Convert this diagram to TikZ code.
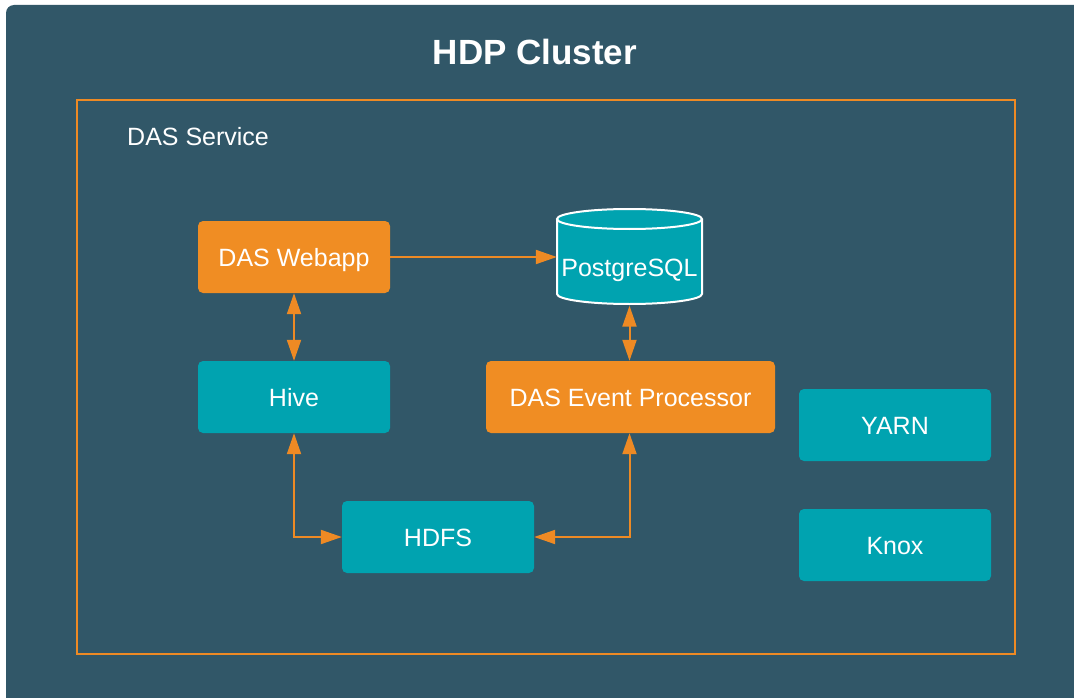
\documentclass[tikz,border=0pt]{standalone}
\usepackage{fontspec}
\setmainfont{Liberation Sans}
\usetikzlibrary{arrows.meta}
\definecolor{bgdark}{HTML}{315768}
\definecolor{tealbox}{HTML}{00A3B0}
\definecolor{orangebox}{HTML}{F08D23}
\definecolor{frameorange}{HTML}{EE8A24}
\tikzset{
  lbl/.style={text=white, font=\fontsize{25}{30}\selectfont, text height=18pt, text depth=0pt},
  box/.style={lbl, rectangle, rounded corners=5pt, inner sep=0pt, minimum width=192pt, minimum height=72pt},
  tealb/.style={box, fill=tealbox},
  orangeb/.style={box, fill=orangebox},
  conn/.style={draw=frameorange, line width=2pt, -{Triangle[length=21pt,width=14pt]}},
  dconn/.style={draw=frameorange, line width=2pt, {Triangle[length=21pt,width=14pt]}-{Triangle[length=21pt,width=14pt]}},
}
\begin{document}
\begin{tikzpicture}[x=1pt,y=-1pt]
\useasboundingbox (0,0) rectangle (1074,698);
\fill[white] (0,0) rectangle (1074,698);
\begin{scope}
\clip (0,0) rectangle (1074,698);
\fill[bgdark, rounded corners=8pt] (6,5) rectangle (1090,715);
\end{scope}
\draw[frameorange, line width=2.5pt] (77,100) rectangle (1015,654);
\node[text=white, font=\bfseries\fontsize{35}{40}\selectfont, text height=25pt, text depth=0pt, inner sep=0pt] (title) at (535,52) {HDP Cluster};
\node[lbl, anchor=west, inner sep=0pt] (svc) at (127,137) {DAS Service};
\node[orangeb] (webapp) at (294,257) {DAS Webapp};
\node[tealb] (hive) at (294,397) {Hive};
\node[orangeb, minimum width=289pt] (event) at (630.5,397) {DAS Event Processor};
\node[tealb] (hdfs) at (438,537) {HDFS};
\node[tealb] (yarn) at (895,425) {YARN};
\node[tealb] (knox) at (895,545) {Knox};
% PostgreSQL cylinder
\fill[tealbox] (557,219) -- (557,294) arc[start angle=180,end angle=360,x radius=72.5pt,y radius=10pt] -- (702,219) arc[start angle=0,end angle=180,x radius=72.5pt,y radius=10pt] -- cycle;
\draw[white, line width=2pt] (557,219) -- (557,294) arc[start angle=180,end angle=360,x radius=72.5pt,y radius=10pt] -- (702,219);
\draw[white, line width=2pt] (629.5,219) ellipse[x radius=72.5pt,y radius=10pt];
\node[rectangle, inner sep=0pt, minimum width=145pt, minimum height=97pt] (pg) at (629.5,257) {};
\node[lbl, inner sep=0pt] (pglabel) at (629.5,267) {PostgreSQL};
% connectors
\draw[conn] (webapp.east) -- (pg.west);
\draw[dconn] (webapp.south) -- (hive.north);
\draw[dconn] (pg.south) -- (pg.south |- event.north);
\draw[dconn] (hive.south) |- (hdfs.west);
\draw[dconn] (event.south -| pg.south) |- (hdfs.east);
\end{tikzpicture}
\end{document}
